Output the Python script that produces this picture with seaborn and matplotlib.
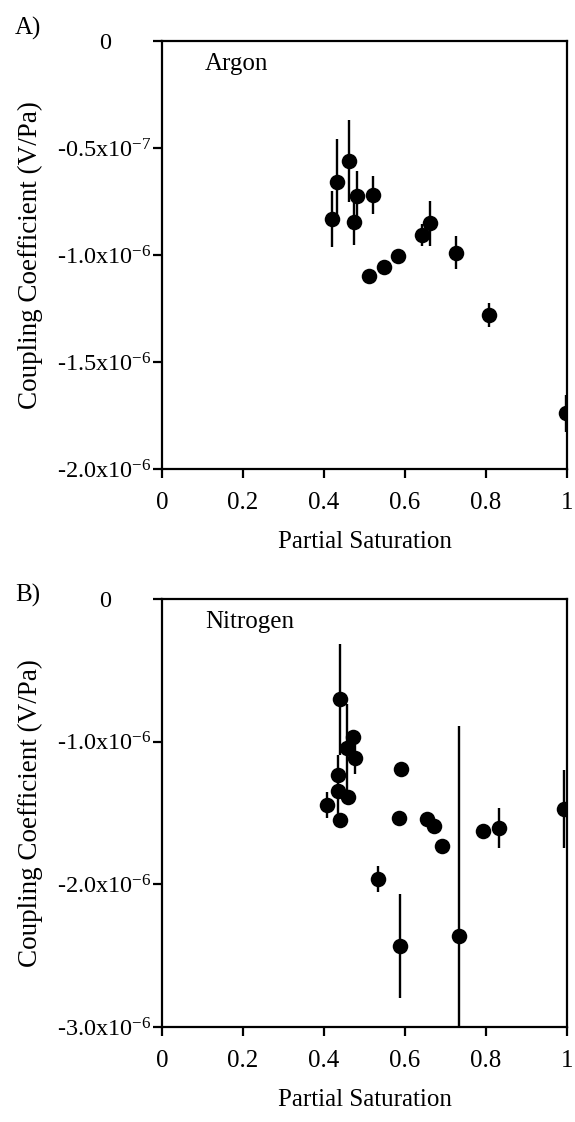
import numpy as np
import pandas as pd
import seaborn as sns
import matplotlib.pyplot as plt

# Panel A: argon
argon_sat = [0.419, 0.433, 0.4625, 0.481, 0.474, 0.522, 0.511, 0.548, 0.583,
             0.641, 0.662, 0.725, 0.808, 0.998]
argon_cc = np.array([-0.833, -0.657, -0.561, -0.723, -0.844, -0.72, -1.097, -1.055,
                     -1.005, -0.907, -0.852, -0.989, -1.28, -1.74]) * 1e-6
argon_err = np.array([0.13, 0.20, 0.19, 0.115, 0.11, 0.087, 0.0, 0.0,
                      0.0, 0.05, 0.105, 0.078, 0.055, 0.086]) * 1e-6

# Panel B: nitrogen
nitrogen_sat = [0.4395, 0.4725, 0.456, 0.4765, 0.4353, 0.435, 0.46, 0.4066, 0.4395,
                0.589, 0.585, 0.6535, 0.6716, 0.6905, 0.534, 0.5877, 0.733, 0.793,
                0.833, 0.9934]
nitrogen_cc = np.array([-0.703, -0.965, -1.046, -1.116, -1.233, -1.343, -1.39, -1.444,
                        -1.549, -1.191, -1.537, -1.544, -1.589, -1.731, -1.962, -2.432,
                        -2.362, -1.63, -1.603, -1.472]) * 1e-6
nitrogen_err = np.array([0.39, 0.0, 0.31, 0.11, 0.0, 0.25, 0.0, 0.088,
                         0.0, 0.0, 0.0, 0.0, 0.0, 0.0, 0.093, 0.367,
                         1.47, 0.0, 0.14, 0.274]) * 1e-6

x_ticks = [0, 0.2, 0.4, 0.6, 0.8, 1.0]
x_labels = ['0', '0.2', '0.4', '0.6', '0.8', '1']

a_ticks = [0, -0.5e-6, -1.0e-6, -1.5e-6, -2.0e-6]
a_labels = ['0', r'-0.5x10$^{\mathrm{-7}}$', r'-1.0x10$^{\mathrm{-6}}$',
            r'-1.5x10$^{\mathrm{-6}}$', r'-2.0x10$^{\mathrm{-6}}$']
b_ticks = [0, -1.0e-6, -2.0e-6, -3.0e-6]
b_labels = ['0', r'-1.0x10$^{\mathrm{-6}}$', r'-2.0x10$^{\mathrm{-6}}$',
            r'-3.0x10$^{\mathrm{-6}}$']

sns.set_style('ticks')
plt.rcParams['font.family'] = ['Liberation Serif', 'DejaVu Serif']
plt.rcParams['mathtext.fontset'] = 'custom'
plt.rcParams['mathtext.rm'] = 'Liberation Serif'
plt.rcParams['mathtext.it'] = 'Liberation Serif:italic'
plt.rcParams['mathtext.bf'] = 'Liberation Serif:bold'
for key in ['text.color', 'axes.labelcolor', 'xtick.color', 'ytick.color', 'axes.edgecolor']:
    plt.rcParams[key] = 'black'


def draw_panel(ax, sat, cc, err, ylim, yticks, ylabels, gas, letter, letter_y):
    df = pd.DataFrame({'sat': sat, 'cc': cc, 'err': err})
    ax.errorbar(df['sat'], df['cc'], yerr=df['err'], fmt='none', ecolor='black',
                elinewidth=1.7, capsize=0, zorder=2)
    sns.scatterplot(data=df, x='sat', y='cc', ax=ax, color='black', s=125,
                    linewidth=0, zorder=3, legend=False)

    ax.set_xlim(0, 1)
    ax.set_ylim(*ylim)
    ax.set_xticks(x_ticks)
    ax.set_xticklabels(x_labels)
    ax.set_yticks(yticks)
    ax.set_yticklabels(ylabels)
    ax.tick_params(direction='out', length=6.5, width=1.6, color='black')
    ax.tick_params(axis='x', pad=10, labelsize=18)
    ax.tick_params(axis='y', pad=1, labelsize=17.5)
    for sp in ax.spines.values():
        sp.set_linewidth(1.6)
        sp.set_color('black')

    # the "0" label sits further left in the original
    ax.yaxis.get_major_ticks()[0].label1.set_x(-0.1)

    ax.set_xlabel('Partial Saturation', fontsize=18, labelpad=12)
    ax.set_ylabel('Coupling Coefficient (V/Pa)', fontsize=19.5, labelpad=10)
    ax.text(0.106, 0.932, gas, transform=ax.transAxes, fontsize=18, va='baseline')
    fig.text(0.026, letter_y, letter, fontsize=18, va='baseline')


fig = plt.figure(figsize=(5.75, 11.22), dpi=100)
ax_a = fig.add_axes([0.2817, 0.582, 0.7043, 0.3815])
ax_b = fig.add_axes([0.2817, 0.0847, 0.7043, 0.3815])

draw_panel(ax_a, argon_sat, argon_cc, argon_err, (-2.0e-6, 0), a_ticks, a_labels,
           'Argon', 'A)', 0.9688)
draw_panel(ax_b, nitrogen_sat, nitrogen_cc, nitrogen_err, (-3.0e-6, 0), b_ticks, b_labels,
           'Nitrogen', 'B)', 0.4635)

plt.savefig('out.png', dpi=100)
